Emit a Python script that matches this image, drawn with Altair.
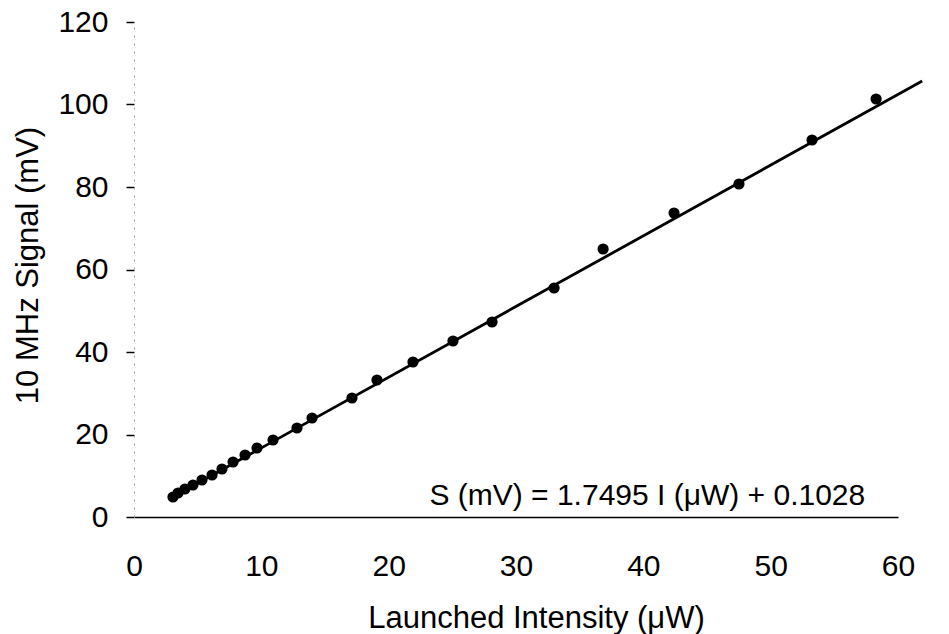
import altair as alt
import pandas as pd

# Data points
intensity = [3.06, 3.46, 4.0, 4.63, 5.34, 6.13, 6.91, 7.78, 8.72, 9.66, 10.92,
             12.80, 13.98, 17.12, 19.08, 21.91, 25.05, 28.12, 32.99, 36.84,
             42.41, 47.51, 53.25, 58.28]
signal = [4.85, 5.82, 6.79, 7.76, 8.97, 10.18, 11.64, 13.33, 15.03, 16.73, 18.67,
          21.58, 24.0, 28.85, 33.21, 37.58, 42.67, 47.27, 55.52, 64.97,
          73.70, 80.73, 91.39, 101.33]

# Fit line end points
fit_x = [3.06, 61.9]
fit_y = [4.85, 105.7]

# Equation annotation
eq_text = ["S (mV) = 1.7495 I (\u03bcW) + 0.1028"]
eq_x = [23.2]
eq_y = [2.9]

x_ticks = [0, 10, 20, 30, 40, 50, 60]
y_ticks = [0, 20, 40, 60, 80, 100, 120]

FONT = "Liberation Sans"

pts = pd.DataFrame({"I": intensity, "S": signal})
fit = pd.DataFrame({"I": fit_x, "S": fit_y})
eq = pd.DataFrame({"I": eq_x, "S": eq_y, "t": eq_text})

xscale = alt.Scale(domain=[0, 60], nice=False, zero=False)
yscale = alt.Scale(domain=[0, 120], nice=False, zero=False)

xaxis = alt.Axis(
    title="Launched Intensity (\u03bcW)",
    values=x_ticks, grid=False, ticks=False,
    domainColor="black", domainWidth=1.5,
    labelFont=FONT, labelFontSize=30, labelColor="black", labelPadding=34,
    labelFlush=False,
    titleFont=FONT, titleFontSize=31, titleFontWeight="normal", titleColor="black",
    titleX=402, titleY=110, titleBaseline="alphabetic", titleAlign="center",
)
yaxis = alt.Axis(
    title="10 MHz Signal (mV)",
    values=y_ticks, grid=False, ticks=True, tickSize=8, tickColor="black",
    tickWidth=1.5,
    domainColor="#999999", domainDash=[2, 6], domainWidth=1,
    labelFont=FONT, labelFontSize=30, labelColor="black", labelPadding=18,
    labelFlush=False,
    titleFont=FONT, titleFontSize=31, titleFontWeight="normal", titleColor="black",
    titleX=-106, titleY=243, titleAngle=270, titleBaseline="middle",
    titleAlign="center",
)

line = alt.Chart(fit).mark_line(color="black", strokeWidth=2.8).encode(
    x=alt.X("I:Q", scale=xscale, axis=xaxis),
    y=alt.Y("S:Q", scale=yscale, axis=yaxis),
)

points = alt.Chart(pts).mark_circle(color="black", opacity=1, size=125).encode(
    x=alt.X("I:Q", scale=xscale),
    y=alt.Y("S:Q", scale=yscale),
)

label = alt.Chart(eq).mark_text(
    font=FONT, fontSize=30, color="black", align="left", baseline="alphabetic"
).encode(
    x=alt.X("I:Q", scale=xscale),
    y=alt.Y("S:Q", scale=yscale),
    text="t:N",
)

chart = alt.layer(line, points, label).properties(
    width=764, height=495,
    autosize=alt.AutoSizeParams(type="none"),
    padding={"left": 134, "top": 22, "right": 51, "bottom": 117},
    background="white",
).configure_view(stroke=None)

chart.save("out.html", embed_options={"renderer": "svg", "actions": False})
